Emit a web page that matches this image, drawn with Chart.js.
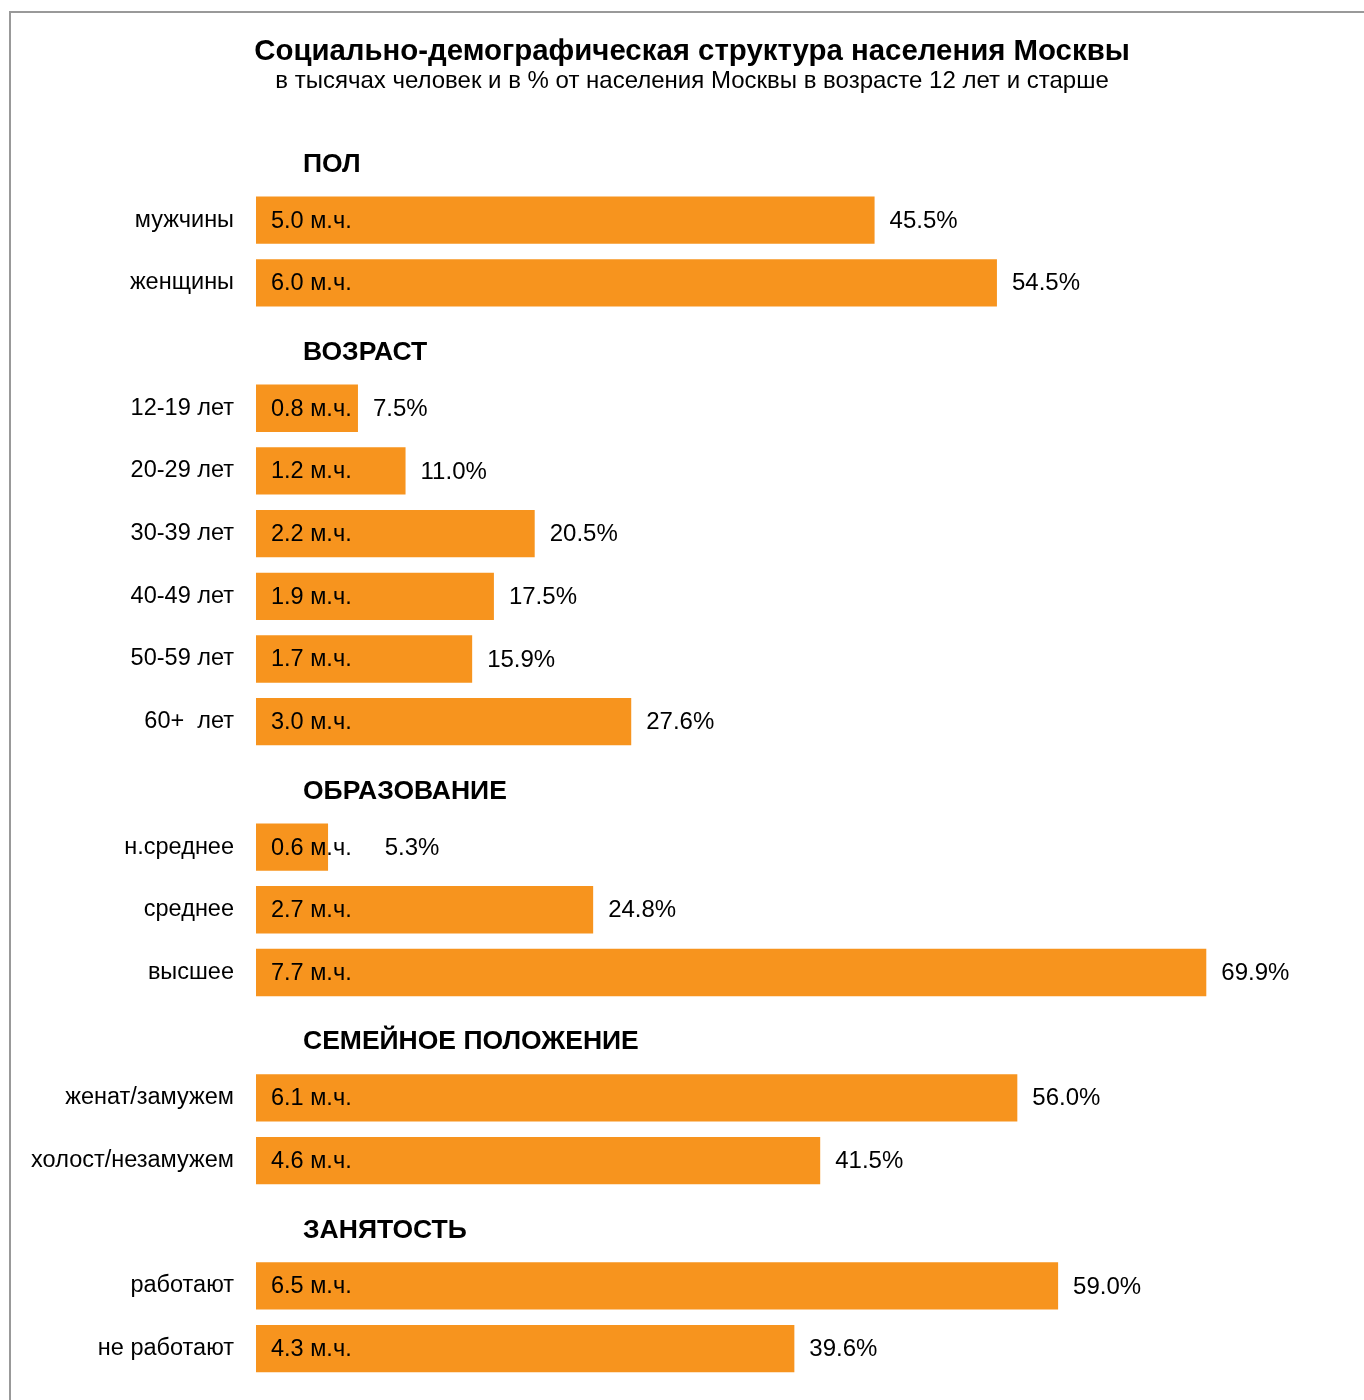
<!DOCTYPE html>
<html>
<head>
<meta charset="utf-8">
<script src="https://cdn.jsdelivr.net/npm/chart.js@4/dist/chart.umd.min.js"></script>
<style>
  html, body { margin: 0; padding: 0; background: #fff; }
  #wrap { position: relative; width: 1364px; height: 1400px; }
</style>
</head>
<body>
<div id="wrap"><canvas id="demoChart"></canvas></div>
<script>
// Sections and rows (top to bottom)
var sectionTitles = ['ПОЛ', 'ВОЗРАСТ', 'ОБРАЗОВАНИЕ', 'СЕМЕЙНОЕ ПОЛОЖЕНИЕ', 'ЗАНЯТОСТЬ'];
var sectionSizes = [2, 6, 3, 2, 2];

var rowLabels = ['мужчины', 'женщины',
    '12-19 лет', '20-29 лет', '30-39 лет', '40-49 лет', '50-59 лет', '60+  лет',
    'н.среднее', 'среднее', 'высшее',
    'женат/замужем', 'холост/незамужем',
    'работают', 'не работают'];

// millions of people
var millions = [5.0, 6.0,
    0.8, 1.2, 2.2, 1.9, 1.7, 3.0,
    0.6, 2.7, 7.7,
    6.1, 4.6,
    6.5, 4.3];

// % of Moscow population aged 12+
var percents = [45.5, 54.5,
    7.5, 11.0, 20.5, 17.5, 15.9, 27.6,
    5.3, 24.8, 69.9,
    56.0, 41.5,
    59.0, 39.6];

// Build the category list: an empty slot for every section header
var labels = [];
var barData = [];
var headerIndex = [];
var rowIndex = [];
var k = 0;
sectionTitles.forEach(function(t, s) {
    headerIndex.push(labels.length);
    labels.push('');
    barData.push(null);
    for (var j = 0; j < sectionSizes[s]; j++) {
        rowIndex.push(labels.length);
        labels.push(rowLabels[k]);
        barData.push(percents[k]);
        k++;
    }
});

var FONT = '"Liberation Sans", Arial, sans-serif';
var ORANGE = '#F7941E';

// frame, section headers and value labels
var extras = {
    id: 'extras',
    beforeDraw: function(chart) {
        var c = chart.ctx;
        c.save();
        c.strokeStyle = '#999';
        c.lineWidth = 2;
        c.beginPath();
        c.moveTo(10, 1400);
        c.lineTo(10, 12);
        c.lineTo(1364, 12);
        c.stroke();
        c.restore();
    },
    afterDatasetsDraw: function(chart) {
        var c = chart.ctx;
        var y = chart.scales.y;
        var meta = chart.getDatasetMeta(0);
        c.save();
        c.textBaseline = 'middle';
        c.fillStyle = '#000';

        // section headers
        c.font = 'bold 26.5px ' + FONT;
        c.textAlign = 'left';
        headerIndex.forEach(function(idx, s) {
            c.fillText(sectionTitles[s], 303, y.getPixelForValue(idx) + 7);
        });

        // inside and outside labels
        rowIndex.forEach(function(idx, i) {
            var bar = meta.data[idx];
            var inner = millions[i].toFixed(1) + ' м.ч.';
            var x0 = bar.base + 15;
            c.font = '23.5px ' + FONT;
            c.fillText(inner, x0, bar.y + 1);
            var innerEnd = x0 + c.measureText(inner).width;
            var px = innerEnd > bar.x ? innerEnd + 33 : bar.x + 15;
            c.font = '24px ' + FONT;
            c.fillText(percents[i].toFixed(1) + '%', px, bar.y + 1);
        });
        c.restore();
    }
};

var ctx = document.getElementById('demoChart').getContext('2d');
var demoChart = new Chart(ctx, {
    type: 'bar',
    data: {
        labels: labels,
        datasets: [{
            data: barData,
            backgroundColor: ORANGE,
            borderWidth: 0,
            categoryPercentage: 1.0,
            barPercentage: 0.755
        }]
    },
    options: {
        indexAxis: 'y',
        responsive: true,
        maintainAspectRatio: false,
        animation: false,
        layout: { padding: { left: 20, right: 0, top: 0, bottom: 20 } },
        plugins: {
            legend: { display: false },
            tooltip: { enabled: false },
            title: {
                display: true,
                text: 'Социально-демографическая структура населения Москвы',
                color: '#000',
                font: { family: FONT, size: 29.4, weight: 'bold' },
                padding: { top: 34, bottom: 0 }
            },
            subtitle: {
                display: true,
                text: 'в тысячах человек и в % от населения Москвы в возрасте 12 лет и старше',
                color: '#000',
                font: { family: FONT, size: 24 },
                padding: { top: -2, bottom: 30 }
            }
        },
        scales: {
            x: {
                display: false,
                min: 0,
                max: 81.5
            },
            y: {
                afterFit: function(scale) {
                    scale.width = 236;
                    scale.paddingTop = 0;
                    scale.paddingBottom = 0;
                },
                grid: { display: false, drawTicks: false },
                border: { display: false },
                ticks: {
                    padding: 22,
                    color: '#000',
                    font: { family: FONT, size: 23.5 }
                }
            }
        }
    },
    plugins: [extras]
});
</script>
</body>
</html>
